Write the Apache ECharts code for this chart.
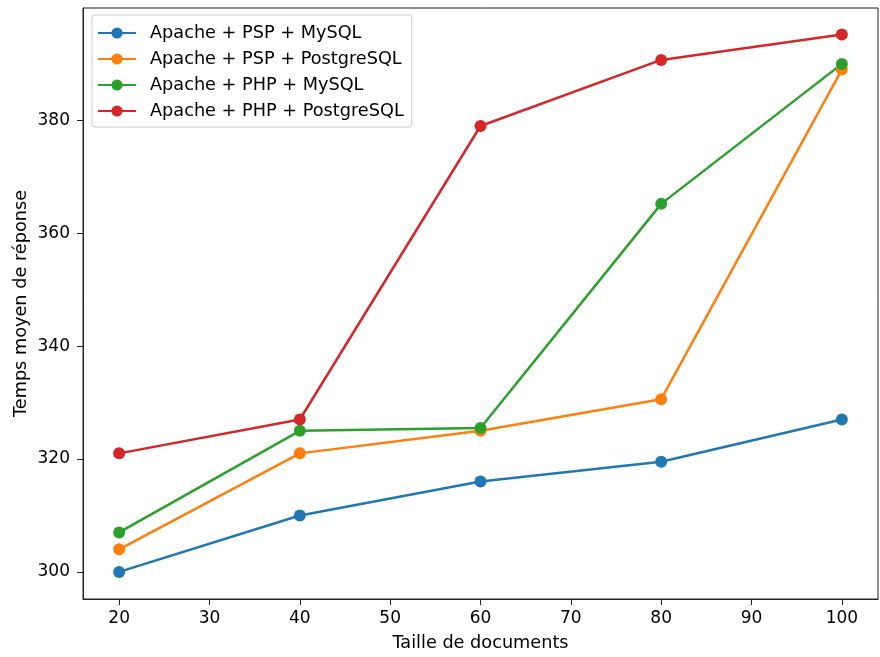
<!DOCTYPE html>
<html>
<head>
<meta charset="utf-8">
<script src="https://cdn.jsdelivr.net/npm/echarts@6/dist/echarts.min.js"></script>
<style>
  html, body { margin: 0; padding: 0; background: #fff; }
  #chart { width: 880px; height: 657px; }
</style>
</head>
<body>
<div id="chart"></div>
<script>
// x values (document size) and mean response times per stack
const sizes = [20, 40, 60, 80, 100];
const pspMysql = [300, 310, 316, 319.5, 327];
const pspPostgres = [304, 321, 325, 330.6, 389];
const phpMysql = [307, 325, 325.5, 365.2, 390];
const phpPostgres = [321, 327, 379, 390.7, 395.2];

const xTicks = [20, 30, 40, 50, 60, 70, 80, 90, 100];
const yTicks = [300, 320, 340, 360, 380];

const names = [
  'Apache + PSP + MySQL',
  'Apache + PSP + PostgreSQL',
  'Apache + PHP + MySQL',
  'Apache + PHP + PostgreSQL'
];
const colors = ['#1f77b4', '#ff7f0e', '#2ca02c', '#d62728'];
const allSeries = [pspMysql, pspPostgres, phpMysql, phpPostgres];

const chart = echarts.init(document.getElementById('chart'));

const font = 'DejaVu Sans';
const tickLabel = { color: '#000', fontSize: 17, fontFamily: font };
const titleStyle = { fontSize: 17.7, fontFamily: font, color: '#000' };

chart.setOption({
  animation: false,
  color: colors,
  grid: {
    left: 83, right: 2, top: 8, bottom: 57,
    show: true, borderColor: '#222', borderWidth: 1
  },
  legend: {
    orient: 'vertical',
    left: 92, top: 15,
    padding: [9, 8, 7, 5],
    itemGap: 8,
    itemWidth: 38,
    itemHeight: 14,
    borderColor: '#ccc',
    borderWidth: 1,
    borderRadius: 3,
    backgroundColor: 'rgba(255,255,255,0.8)',
    textStyle: { fontSize: 17.7, fontFamily: font, color: '#000', padding: [0, 0, 0, 9] },
    data: names
  },
  xAxis: {
    type: 'value',
    min: 16, max: 104,
    name: 'Taille de documents',
    nameLocation: 'middle',
    nameGap: 35,
    nameMoveOverlap: false,
    nameTextStyle: titleStyle,
    axisLine: { show: true, lineStyle: { color: '#222' } },
    axisTick: { show: true, length: 6, customValues: xTicks, lineStyle: { color: '#222' } },
    axisLabel: Object.assign({ customValues: xTicks, margin: 11 }, tickLabel),
    splitLine: { show: false }
  },
  yAxis: {
    type: 'value',
    min: 295.2, max: 399.9,
    name: 'Temps moyen de réponse',
    nameLocation: 'middle',
    nameGap: 53,
    nameMoveOverlap: false,
    nameTextStyle: titleStyle,
    axisLine: { show: true, lineStyle: { color: '#222' } },
    axisTick: { show: true, length: 6, customValues: yTicks, lineStyle: { color: '#222' } },
    axisLabel: Object.assign({ customValues: yTicks, margin: 13 }, tickLabel),
    splitLine: { show: false }
  },
  series: allSeries.map((vals, i) => ({
    name: names[i],
    type: 'line',
    data: sizes.map((s, j) => [s, vals[j]]),
    symbol: 'circle',
    symbolSize: 12,
    lineStyle: { width: 2.5, color: colors[i] },
    itemStyle: { color: colors[i] }
  }))
});
</script>
</body>
</html>
